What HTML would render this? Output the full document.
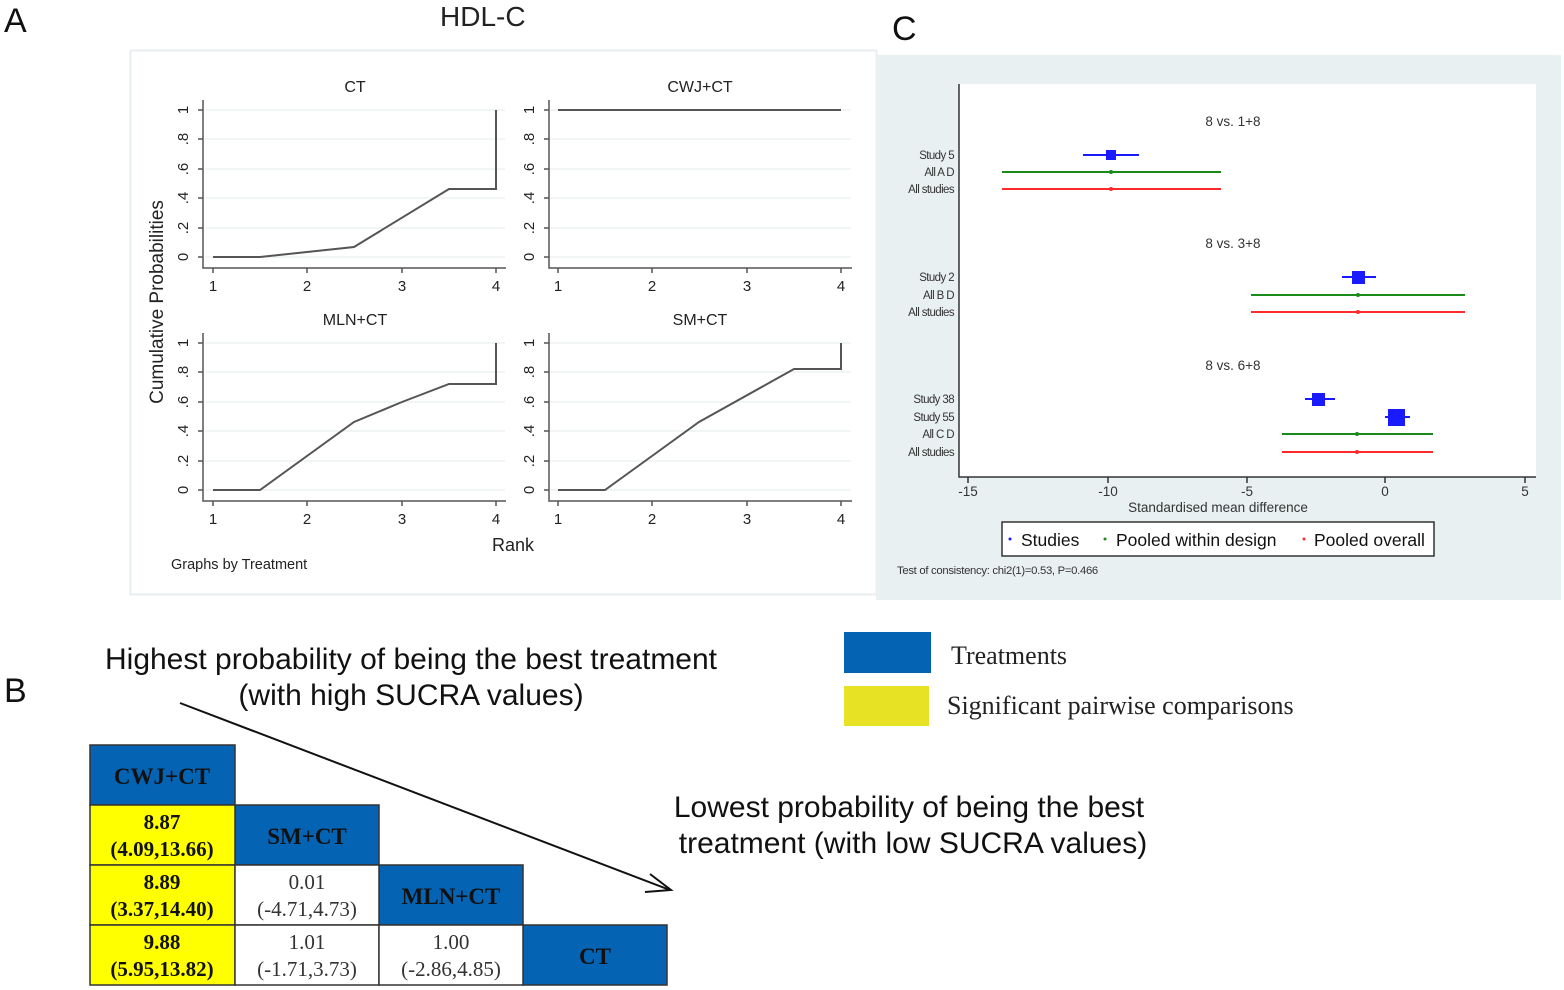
<!DOCTYPE html>
<html><head><meta charset="utf-8"><style>
html,body{margin:0;padding:0;background:#fff;}
svg{display:block;font-family:"Liberation Sans",sans-serif;}
.serif{font-family:"Liberation Serif",serif;}
</style></head><body>
<svg width="1564" height="990" viewBox="0 0 1564 990" xmlns="http://www.w3.org/2000/svg">
<rect width="1564" height="990" fill="#fff"/>
<text x="4" y="32" font-size="34" fill="#111">A</text>
<text x="440" y="26" font-size="28" fill="#222">HDL-C</text>
<text x="892" y="40" font-size="34" fill="#111">C</text>
<text x="4" y="702" font-size="34" fill="#111">B</text>

<rect x="130.5" y="50.5" width="746" height="544" fill="#fff" stroke="#e8eef0" stroke-width="2"/>
<g stroke="#edf2f4" stroke-width="1.5">
<line x1="205" x2="505" y1="257" y2="257"/><line x1="205" x2="505" y1="228" y2="228"/><line x1="205" x2="505" y1="198" y2="198"/><line x1="205" x2="505" y1="169" y2="169"/><line x1="205" x2="505" y1="139" y2="139"/><line x1="205" x2="505" y1="110" y2="110"/>
<line x1="550" x2="851" y1="257" y2="257"/><line x1="550" x2="851" y1="228" y2="228"/><line x1="550" x2="851" y1="198" y2="198"/><line x1="550" x2="851" y1="169" y2="169"/><line x1="550" x2="851" y1="139" y2="139"/><line x1="550" x2="851" y1="110" y2="110"/>
<line x1="205" x2="505" y1="490" y2="490"/><line x1="205" x2="505" y1="461" y2="461"/><line x1="205" x2="505" y1="431" y2="431"/><line x1="205" x2="505" y1="402" y2="402"/><line x1="205" x2="505" y1="372" y2="372"/><line x1="205" x2="505" y1="343" y2="343"/>
<line x1="550" x2="851" y1="490" y2="490"/><line x1="550" x2="851" y1="461" y2="461"/><line x1="550" x2="851" y1="431" y2="431"/><line x1="550" x2="851" y1="402" y2="402"/><line x1="550" x2="851" y1="372" y2="372"/><line x1="550" x2="851" y1="343" y2="343"/>
</g>
<g stroke="#555" stroke-width="1.5" fill="none">
<path d="M203,100 V268 H506"/><path d="M549,100 V268 H852"/>
<path d="M203,333 V501 H506"/><path d="M549,333 V501 H852"/>
<path d="M213,268v5M307,268v5M402,268v5M496,268v5M558,268v5M652,268v5M747,268v5M841,268v5"/>
<path d="M213,501v5M307,501v5M402,501v5M496,501v5M558,501v5M652,501v5M747,501v5M841,501v5"/>
<path d="M198,257h5M198,228h5M198,198h5M198,169h5M198,139h5M198,110h5M544,257h5M544,228h5M544,198h5M544,169h5M544,139h5M544,110h5"/>
<path d="M198,490h5M198,461h5M198,431h5M198,402h5M198,372h5M198,343h5M544,490h5M544,461h5M544,431h5M544,402h5M544,372h5M544,343h5"/>
</g>
<g stroke="#555" stroke-width="2" fill="none">
<polyline points="213,257 260,257 354,247 449,189 496,189 496,110"/>
<polyline points="558,110 841,110"/>
<polyline points="213,490 260,490 354,422 402,402 449,384 496,384 496,343"/>
<polyline points="558,490 605,490 699,422 794,369 841,369 841,343"/>
</g>
<g font-size="16" fill="#222" text-anchor="middle">
<text x="355" y="92">CT</text><text x="700" y="92">CWJ+CT</text>
<text x="355" y="325">MLN+CT</text><text x="700" y="325">SM+CT</text>
<g font-size="15">
<text x="213" y="291">1</text><text x="307" y="291">2</text><text x="402" y="291">3</text><text x="496" y="291">4</text>
<text x="558" y="291">1</text><text x="652" y="291">2</text><text x="747" y="291">3</text><text x="841" y="291">4</text>
<text x="213" y="524">1</text><text x="307" y="524">2</text><text x="402" y="524">3</text><text x="496" y="524">4</text>
<text x="558" y="524">1</text><text x="652" y="524">2</text><text x="747" y="524">3</text><text x="841" y="524">4</text>
</g>
</g>
<g font-size="15" fill="#222" text-anchor="middle">
<text transform="translate(188,257) rotate(-90)">0</text><text transform="translate(188,228) rotate(-90)">.2</text><text transform="translate(188,198) rotate(-90)">.4</text><text transform="translate(188,169) rotate(-90)">.6</text><text transform="translate(188,139) rotate(-90)">.8</text><text transform="translate(188,110) rotate(-90)">1</text>
<text transform="translate(534,257) rotate(-90)">0</text><text transform="translate(534,228) rotate(-90)">.2</text><text transform="translate(534,198) rotate(-90)">.4</text><text transform="translate(534,169) rotate(-90)">.6</text><text transform="translate(534,139) rotate(-90)">.8</text><text transform="translate(534,110) rotate(-90)">1</text>
<text transform="translate(188,490) rotate(-90)">0</text><text transform="translate(188,461) rotate(-90)">.2</text><text transform="translate(188,431) rotate(-90)">.4</text><text transform="translate(188,402) rotate(-90)">.6</text><text transform="translate(188,372) rotate(-90)">.8</text><text transform="translate(188,343) rotate(-90)">1</text>
<text transform="translate(534,490) rotate(-90)">0</text><text transform="translate(534,461) rotate(-90)">.2</text><text transform="translate(534,431) rotate(-90)">.4</text><text transform="translate(534,402) rotate(-90)">.6</text><text transform="translate(534,372) rotate(-90)">.8</text><text transform="translate(534,343) rotate(-90)">1</text>
<text transform="translate(163,302) rotate(-90)" font-size="19">Cumulative Probabilities</text>
<text x="513" y="551" font-size="18">Rank</text>
</g>
<text x="171" y="569" font-size="14.5" fill="#222">Graphs by Treatment</text>

<rect x="876" y="55" width="685" height="545" fill="#e9f0f2"/>
<rect x="959" y="84" width="577" height="393" fill="#fff"/>
<path d="M959,84 V477 H1536" stroke="#333" stroke-width="1.5" fill="none"/>
<g stroke="#333" stroke-width="1.5"><path d="M968,477v6M1108,477v6M1247,477v6M1385,477v6M1525,477v6"/></g>
<g font-size="13.5" fill="#333" text-anchor="middle">
<text x="968" y="489" dy="0.5em">-15</text><text x="1108" y="489" dy="0.5em">-10</text><text x="1247" y="489" dy="0.5em">-5</text><text x="1385" y="489" dy="0.5em">0</text><text x="1525" y="489" dy="0.5em">5</text>
<text x="1218" y="512">Standardised mean difference</text>
<text x="1233" y="126">8 vs. 1+8</text><text x="1233" y="248">8 vs. 3+8</text><text x="1233" y="370">8 vs. 6+8</text>
</g>
<g font-size="11.5" fill="#333" text-anchor="end" letter-spacing="-0.6">
<text x="954" y="159">Study 5</text><text x="954" y="176">All A D</text><text x="954" y="193">All studies</text>
<text x="954" y="281">Study 2</text><text x="954" y="299">All B D</text><text x="954" y="316">All studies</text>
<text x="954" y="403">Study 38</text><text x="954" y="421">Study 55</text><text x="954" y="438">All C D</text><text x="954" y="456">All studies</text>
</g>
<g stroke-width="2">
<line x1="1083" x2="1139" y1="155" y2="155" stroke="#1a1aff"/><rect x="1106" y="150" width="10" height="10" fill="#1a1aff"/>
<line x1="1002" x2="1221" y1="172" y2="172" stroke="#1a8a1a"/><circle cx="1111" cy="172" r="2" fill="#1a8a1a"/>
<line x1="1002" x2="1221" y1="189" y2="189" stroke="#ff2a2a"/><circle cx="1111" cy="189" r="2" fill="#ff2a2a"/>
<line x1="1342" x2="1376" y1="277" y2="277" stroke="#1a1aff"/><rect x="1352" y="271" width="13" height="13" fill="#1a1aff"/>
<line x1="1251" x2="1465" y1="295" y2="295" stroke="#1a8a1a"/><circle cx="1358" cy="295" r="2" fill="#1a8a1a"/>
<line x1="1251" x2="1465" y1="312" y2="312" stroke="#ff2a2a"/><circle cx="1358" cy="312" r="2" fill="#ff2a2a"/>
<line x1="1305" x2="1335" y1="399" y2="399" stroke="#1a1aff"/><rect x="1312" y="393" width="13" height="13" fill="#1a1aff"/>
<line x1="1385" x2="1410" y1="417" y2="417" stroke="#1a1aff"/><rect x="1388" y="409" width="17" height="17" fill="#1a1aff"/>
<line x1="1282" x2="1433" y1="434" y2="434" stroke="#1a8a1a"/><circle cx="1357" cy="434" r="2" fill="#1a8a1a"/>
<line x1="1282" x2="1433" y1="452" y2="452" stroke="#ff2a2a"/><circle cx="1357" cy="452" r="2" fill="#ff2a2a"/>
</g>
<rect x="1002" y="522" width="432" height="34" fill="#fff" stroke="#333" stroke-width="1.5"/>
<g font-size="17.5" fill="#111">
<circle cx="1010" cy="539" r="1.5" fill="#1a1aff"/><text x="1021" y="546">Studies</text>
<circle cx="1105" cy="539" r="1.5" fill="#1a8a1a"/><text x="1116" y="546">Pooled within design</text>
<circle cx="1304" cy="539" r="1.5" fill="#ff2a2a"/><text x="1314" y="546">Pooled overall</text>
</g>
<text x="897" y="574" font-size="11.3" fill="#333" letter-spacing="-0.3">Test of consistency: chi2(1)=0.53, P=0.466</text>

<g font-size="30" fill="#111" text-anchor="middle">
<text x="411" y="669">Highest probability of being the best treatment</text>
<text x="411" y="705">(with high SUCRA values)</text>
<text x="909" y="817">Lowest probability of being the best</text>
<text x="913" y="853">treatment (with low SUCRA values)</text>
</g>
<line x1="180" y1="703" x2="670" y2="890" stroke="#111" stroke-width="2"/>
<path d="M650,874 L671,890 L645,892" stroke="#111" stroke-width="2" fill="none"/>

<rect x="844" y="632" width="87" height="41" fill="#0563b3"/>
<rect x="844" y="686" width="85" height="40" fill="#e8e224"/>
<text x="951" y="664" font-size="26" fill="#222" class="serif">Treatments</text>
<text x="947" y="714" font-size="26" fill="#222" class="serif">Significant pairwise comparisons</text>

<g stroke="#333" stroke-width="1.5">
<rect x="90" y="745" width="145" height="60" fill="#0563b3"/>
<rect x="235" y="805" width="144" height="60" fill="#0563b3"/>
<rect x="379" y="865" width="144" height="60" fill="#0563b3"/>
<rect x="523" y="925" width="144" height="60" fill="#0563b3"/>
<rect x="90" y="805" width="145" height="60" fill="#ffff00"/>
<rect x="90" y="865" width="145" height="60" fill="#ffff00"/>
<rect x="90" y="925" width="145" height="60" fill="#ffff00"/>
<rect x="235" y="865" width="144" height="60" fill="#fff"/>
<rect x="235" y="925" width="144" height="60" fill="#fff"/>
<rect x="379" y="925" width="144" height="60" fill="#fff"/>
</g>
<g class="serif" text-anchor="middle" fill="#111" font-size="21">
<text x="162" y="784" font-weight="bold" font-size="23">CWJ+CT</text>
<text x="307" y="844" font-weight="bold" font-size="23">SM+CT</text>
<text x="451" y="904" font-weight="bold" font-size="23">MLN+CT</text>
<text x="595" y="964" font-weight="bold" font-size="23">CT</text>
<g font-weight="bold">
<text x="162" y="829">8.87</text><text x="162" y="856">(4.09,13.66)</text>
<text x="162" y="889">8.89</text><text x="162" y="916">(3.37,14.40)</text>
<text x="162" y="949">9.88</text><text x="162" y="976">(5.95,13.82)</text>
</g>
<g fill="#333">
<text x="307" y="889">0.01</text><text x="307" y="916">(-4.71,4.73)</text>
<text x="307" y="949">1.01</text><text x="307" y="976">(-1.71,3.73)</text>
<text x="451" y="949">1.00</text><text x="451" y="976">(-2.86,4.85)</text>
</g>
</g>
</svg>
</body></html>
